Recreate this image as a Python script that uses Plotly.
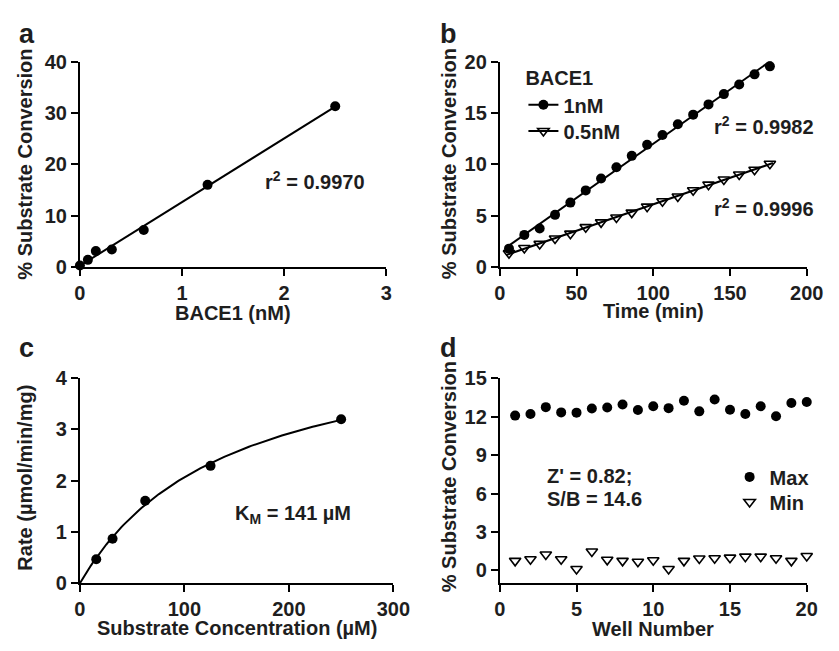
import numpy as np
import plotly.graph_objects as go

W, H = 839, 651

# ---------------- data ----------------
# panel a: BACE1 titration
a_conc = [0, 0.078, 0.156, 0.3125, 0.625, 1.25, 2.5]
a_conv = [0.3, 1.4, 3.1, 3.4, 7.2, 16.0, 31.3]

# panel b: time course
b_time = [6, 16, 26, 36, 46, 56, 66, 76, 86, 96, 106, 116, 126, 136, 146, 156, 166, 176]
b_1nM = [1.79, 3.13, 3.76, 5.08, 6.27, 7.46, 8.62, 9.72, 10.82, 11.91, 12.85, 13.89,
         14.83, 15.83, 16.83, 17.77, 18.75, 19.53]
b_05nM = [1.35, 1.85, 2.25, 2.78, 3.25, 3.88, 4.35, 4.82, 5.30, 5.88, 6.40, 6.87,
          7.48, 8.02, 8.52, 9.00, 9.47, 10.05]

# panel c: substrate kinetics
c_sub = [15.625, 31.25, 62.5, 125, 250]
c_rate = [0.47, 0.87, 1.61, 2.29, 3.20]
c_km = 141

# panel d: plate uniformity
d_well = list(range(1, 21))
d_max = [12.08, 12.2, 12.74, 12.33, 12.31, 12.64, 12.71, 12.94, 12.51, 12.81,
         12.66, 13.24, 12.41, 13.34, 12.53, 12.21, 12.81, 12.03, 13.06, 13.14]
d_min = [0.75, 0.88, 1.25, 0.88, 0.12, 1.48, 0.83, 0.75, 0.68, 0.80,
         0.12, 0.75, 0.93, 0.95, 1.00, 1.08, 1.08, 0.95, 0.75, 1.13]

# ---------------- helpers ----------------
def px(x):
    return x / W

def py(y):
    return 1 - y / H

FONT = "Liberation Sans, Arial, sans-serif"
TXT = "#1e1e1e"
ink = "black"

fig = go.Figure()

# fits
a_fit = np.polyfit(a_conc, a_conv, 1)
a_fx = np.array([min(a_conc), max(a_conc)])
b1_fit = np.polyfit(b_time, b_1nM, 1)
b2_fit = np.polyfit(b_time, b_05nM, 1)
b_fx = np.array([min(b_time) - 2, max(b_time) + 2])
c_s = np.array(c_sub)
c_f = c_s / (c_km + c_s)
c_vmax = float(np.sum(np.array(c_rate) * c_f) / np.sum(c_f ** 2))
c_fx = np.linspace(0, max(c_sub), 120)
c_fy = c_vmax * c_fx / (c_km + c_fx)

circle = dict(symbol="circle", size=10, color=ink)
tri = dict(symbol="triangle-down-open", size=10, color=ink, line=dict(width=1.6, color=ink))

# panel a
fig.add_trace(go.Scatter(x=a_fx, y=np.polyval(a_fit, a_fx), mode="lines",
                         line=dict(color=ink, width=2), xaxis="x", yaxis="y", showlegend=False))
fig.add_trace(go.Scatter(x=a_conc, y=a_conv, mode="markers", marker=circle,
                         xaxis="x", yaxis="y", showlegend=False, cliponaxis=False))

# panel b
fig.add_trace(go.Scatter(x=b_fx, y=np.polyval(b1_fit, b_fx), mode="lines",
                         line=dict(color=ink, width=2), xaxis="x2", yaxis="y2", showlegend=False))
fig.add_trace(go.Scatter(x=b_fx, y=np.polyval(b2_fit, b_fx), mode="lines",
                         line=dict(color=ink, width=2), xaxis="x2", yaxis="y2", showlegend=False))
fig.add_trace(go.Scatter(x=b_time, y=b_1nM, mode="markers", marker=circle,
                         xaxis="x2", yaxis="y2", showlegend=False, cliponaxis=False))
fig.add_trace(go.Scatter(x=b_time, y=b_05nM, mode="markers", marker=tri,
                         xaxis="x2", yaxis="y2", showlegend=False, cliponaxis=False))
fig.add_trace(go.Scatter(x=[None], y=[None], mode="lines+markers", name="1nM",
                         marker=circle, line=dict(color=ink, width=2),
                         xaxis="x2", yaxis="y2", legend="legend"))
fig.add_trace(go.Scatter(x=[None], y=[None], mode="lines+markers", name="0.5nM",
                         marker=tri, line=dict(color=ink, width=2),
                         xaxis="x2", yaxis="y2", legend="legend3"))

# panel c
fig.add_trace(go.Scatter(x=c_fx, y=c_fy, mode="lines", line=dict(color=ink, width=2),
                         xaxis="x3", yaxis="y3", showlegend=False))
fig.add_trace(go.Scatter(x=c_sub, y=c_rate, mode="markers", marker=circle,
                         xaxis="x3", yaxis="y3", showlegend=False, cliponaxis=False))

# panel d
fig.add_trace(go.Scatter(x=d_well, y=d_max, mode="markers", marker=circle, name="Max",
                         xaxis="x4", yaxis="y4", legend="legend2", cliponaxis=False))
fig.add_trace(go.Scatter(x=d_well, y=d_min, mode="markers", marker=tri, name="Min",
                         xaxis="x4", yaxis="y4", legend="legend4", cliponaxis=False))

TF = dict(family=FONT, size=20, color=TXT, weight="bold")
axis_common = dict(showline=True, linecolor=ink, linewidth=2, ticks="outside",
                   ticklen=7, tickwidth=2, tickcolor=ink, showgrid=False, zeroline=False,
                   tickfont=TF, fixedrange=True)

# pixel boxes
A = dict(x0=76, x1=391, y0=52.3, y1=265)
B = dict(x0=507.7, x1=823.3, y0=52.3, y1=265)
C = dict(x0=76, x1=398.3, y0=380, y1=592.3)
D = dict(x0=507.7, x1=823.3, y0=380, y1=592.3)

def dom(b):
    return [px(b["x0"]), px(b["x1"])], [py(b["y1"]), py(b["y0"])]

ax, ay = dom(A)
bx, by = dom(B)
cx, cy = dom(C)
dx, dy = dom(D)

def leg(x, y, title=None):
    d = dict(x=px(x), y=py(y), xanchor="left", yanchor="top",
             bgcolor="rgba(0,0,0,0)", borderwidth=0, font=TF)
    if title:
        d["title"] = dict(text=title, font=TF)
    return d

fig.update_layout(
    width=W, height=H, autosize=False,
    margin=dict(l=0, r=0, t=0, b=0),
    paper_bgcolor="white", plot_bgcolor="white",
    font=TF,
    xaxis=dict(domain=ax, anchor="y", range=[0, 3], dtick=1, **axis_common),
    yaxis=dict(domain=ay, anchor="x", range=[0, 40], dtick=10, **axis_common),
    xaxis2=dict(domain=bx, anchor="y2", range=[0, 200], dtick=50, **axis_common),
    yaxis2=dict(domain=by, anchor="x2", range=[0, 20], dtick=5, **axis_common),
    xaxis3=dict(domain=cx, anchor="y3", range=[0, 300], dtick=100, **axis_common),
    yaxis3=dict(domain=cy, anchor="x3", range=[0, 4], dtick=1, **axis_common),
    xaxis4=dict(domain=dx, anchor="y4", range=[0, 20], dtick=5, **axis_common),
    yaxis4=dict(domain=dy, anchor="x4", range=[-1, 15], tickvals=[0, 3, 6, 9, 12, 15], **axis_common),
    legend=leg(532, 50, "BACE1"),
    legend3=leg(532, 104),
    legend2=leg(744, 462),
    legend4=leg(744, 488),
)

def ann(text, x, y, xanchor="center", yanchor="middle", size=20, angle=0):
    fig.add_annotation(text=text, x=px(x), y=py(y), xref="paper", yref="paper",
                       xanchor=xanchor, yanchor=yanchor, showarrow=False, textangle=angle,
                       font=dict(family=FONT, size=size, color=TXT, weight="bold"))

# axis titles
ann("BACE1 (nM)", 233.5, 313)
ann("% Substrate Conversion", 19.5, 158, angle=-90)
ann("Time (min)", 665.5, 310)
ann("% Substrate Conversion", 455, 158, angle=-90)
ann("Substrate Concentration (µM)", 237, 639)
ann("Rate (µmol/min/mg)", 19.5, 483, angle=-90)
ann("Well Number", 665.5, 640)
ann("% Substrate Conversion", 455, 482, angle=-90)

# panel letters
ann("a", 11, 24, xanchor="left", size=27)
ann("b", 444, 24, xanchor="left", size=27)
ann("c", 11, 349, xanchor="left", size=27)
ann("d", 444, 349, xanchor="left", size=27)

# stats text
ann("r<sup>2</sup> = 0.9970", 264, 175, xanchor="left")
ann("r<sup>2</sup> = 0.9982", 726, 118, xanchor="left")
ann("r<sup>2</sup> = 0.9996", 726, 203, xanchor="left")
ann("K<sub>M</sub> = 141 µM", 233, 521, xanchor="left")
ann("Z' = 0.82;", 554, 481, xanchor="left")
ann("S/B = 14.6", 554, 505, xanchor="left")

fig.write_html("out.html", config={"displayModeBar": False},
               post_script="document.body.style.margin='0';document.body.style.overflow='hidden';")
